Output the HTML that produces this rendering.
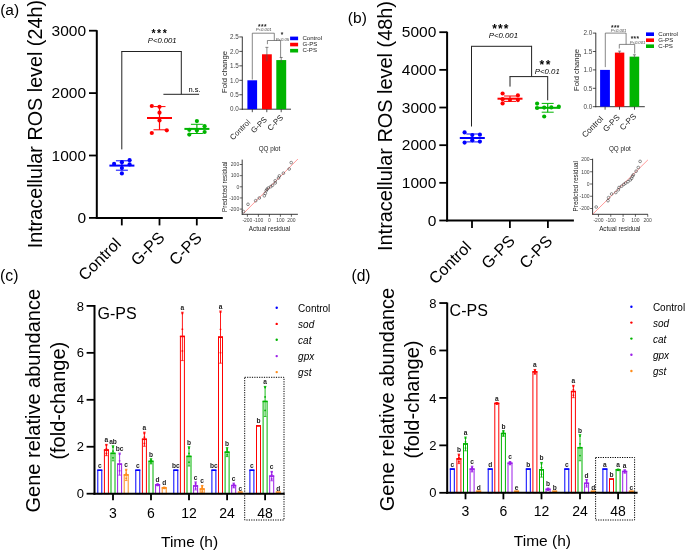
<!DOCTYPE html><html><head><meta charset="utf-8"><style>html,body{margin:0;padding:0;background:#fff;width:685px;height:552px;overflow:hidden}</style></head><body><svg width="685" height="552" viewBox="0 0 685 552" style="display:block;will-change:transform">
<rect width="685" height="552" fill="#fff"/>
<g font-family='"Liberation Sans", sans-serif' fill="#000">
<text x="0.15" y="15.20" font-size="15.5" text-anchor="start" >(a)</text>
<text x="0" y="0" font-size="20" text-anchor="middle" textLength="248.2" lengthAdjust="spacingAndGlyphs" transform="translate(41.8,124.1) rotate(-90)">Intracellular ROS level (24h)</text>
<line x1="96.80" y1="30.20" x2="96.80" y2="218.90" stroke="#000" stroke-width="2"/>
<line x1="95.80" y1="217.90" x2="222.80" y2="217.90" stroke="#000" stroke-width="2"/>
<line x1="89.00" y1="30.70" x2="96.80" y2="30.70" stroke="#000" stroke-width="1.8"/>
<text x="86.00" y="35.70" font-size="15.5" text-anchor="end" >3000</text>
<line x1="89.00" y1="93.10" x2="96.80" y2="93.10" stroke="#000" stroke-width="1.8"/>
<text x="86.00" y="98.10" font-size="15.5" text-anchor="end" >2000</text>
<line x1="89.00" y1="155.50" x2="96.80" y2="155.50" stroke="#000" stroke-width="1.8"/>
<text x="86.00" y="160.50" font-size="15.5" text-anchor="end" >1000</text>
<line x1="89.00" y1="217.90" x2="96.80" y2="217.90" stroke="#000" stroke-width="1.8"/>
<text x="86.00" y="222.90" font-size="15.5" text-anchor="end" >0</text>
<line x1="121.80" y1="217.90" x2="121.80" y2="225.40" stroke="#000" stroke-width="1.8"/>
<line x1="159.50" y1="217.90" x2="159.50" y2="225.40" stroke="#000" stroke-width="1.8"/>
<line x1="196.80" y1="217.90" x2="196.80" y2="225.40" stroke="#000" stroke-width="1.8"/>
<text x="0" y="0" font-size="16.2" text-anchor="end" transform="translate(122.00,244.70) rotate(-45)">Control</text>
<text x="0" y="0" font-size="16.2" text-anchor="end" transform="translate(165.60,238.50) rotate(-45)">G-PS</text>
<text x="0" y="0" font-size="16.2" text-anchor="end" transform="translate(203.00,238.90) rotate(-45)">C-PS</text>
<line x1="121.80" y1="149.40" x2="121.80" y2="51.50" stroke="#222" stroke-width="1"/>
<line x1="121.30" y1="51.50" x2="181.30" y2="51.50" stroke="#222" stroke-width="1"/>
<line x1="181.30" y1="51.00" x2="181.30" y2="94.30" stroke="#222" stroke-width="1"/>
<line x1="163.40" y1="94.30" x2="199.10" y2="94.30" stroke="#222" stroke-width="1"/>
<text x="151.40" y="36.90" font-size="10.5" text-anchor="start" font-weight="bold" letter-spacing="1.6">***</text>
<text x="162.20" y="42.80" font-size="7.7" text-anchor="middle" font-style="italic">P&lt;0.001</text>
<text x="194.50" y="92.00" font-size="7.5" text-anchor="middle" >n.s.</text>
<line x1="109.40" y1="165.60" x2="134.40" y2="165.60" stroke="#0000ff" stroke-width="2"/>
<line x1="121.90" y1="160.80" x2="121.90" y2="170.20" stroke="#0000ff" stroke-width="1.2"/>
<line x1="115.90" y1="160.80" x2="127.90" y2="160.80" stroke="#0000ff" stroke-width="1"/>
<line x1="115.90" y1="170.20" x2="127.90" y2="170.20" stroke="#0000ff" stroke-width="1"/>
<circle cx="129.60" cy="160.20" r="2.1" fill="#0000ff"/>
<circle cx="121.90" cy="162.20" r="2.1" fill="#0000ff"/>
<circle cx="114.10" cy="163.90" r="2.1" fill="#0000ff"/>
<circle cx="129.60" cy="164.40" r="2.1" fill="#0000ff"/>
<circle cx="121.90" cy="168.00" r="2.1" fill="#0000ff"/>
<circle cx="121.90" cy="173.40" r="2.1" fill="#0000ff"/>
<line x1="147.00" y1="118.00" x2="172.00" y2="118.00" stroke="#ff0000" stroke-width="2"/>
<line x1="159.50" y1="106.60" x2="159.50" y2="129.80" stroke="#ff0000" stroke-width="1.2"/>
<line x1="153.50" y1="106.60" x2="165.50" y2="106.60" stroke="#ff0000" stroke-width="1"/>
<line x1="153.50" y1="129.80" x2="165.50" y2="129.80" stroke="#ff0000" stroke-width="1"/>
<circle cx="151.80" cy="106.00" r="2.1" fill="#ff0000"/>
<circle cx="159.50" cy="106.80" r="2.1" fill="#ff0000"/>
<circle cx="159.50" cy="112.70" r="2.1" fill="#ff0000"/>
<circle cx="159.50" cy="120.40" r="2.1" fill="#ff0000"/>
<circle cx="166.80" cy="130.30" r="2.1" fill="#ff0000"/>
<circle cx="151.80" cy="133.00" r="2.1" fill="#ff0000"/>
<line x1="184.40" y1="128.90" x2="209.40" y2="128.90" stroke="#00b400" stroke-width="2"/>
<line x1="196.90" y1="124.30" x2="196.90" y2="133.50" stroke="#00b400" stroke-width="1.2"/>
<line x1="190.90" y1="124.30" x2="202.90" y2="124.30" stroke="#00b400" stroke-width="1"/>
<line x1="190.90" y1="133.50" x2="202.90" y2="133.50" stroke="#00b400" stroke-width="1"/>
<circle cx="196.90" cy="121.10" r="2.1" fill="#00b400"/>
<circle cx="204.60" cy="126.20" r="2.1" fill="#00b400"/>
<circle cx="189.30" cy="129.80" r="2.1" fill="#00b400"/>
<circle cx="196.90" cy="130.60" r="2.1" fill="#00b400"/>
<circle cx="204.60" cy="132.00" r="2.1" fill="#00b400"/>
<circle cx="189.30" cy="134.60" r="2.1" fill="#00b400"/>
<text x="347.85" y="23.30" font-size="15.5" text-anchor="start" >(b)</text>
<text x="0" y="0" font-size="20" text-anchor="middle" textLength="250" lengthAdjust="spacingAndGlyphs" transform="translate(391.7,126) rotate(-90)">Intracellular ROS level (48h)</text>
<line x1="447.10" y1="31.70" x2="447.10" y2="221.50" stroke="#000" stroke-width="2"/>
<line x1="446.10" y1="220.50" x2="573.90" y2="220.50" stroke="#000" stroke-width="2"/>
<line x1="439.30" y1="32.20" x2="447.10" y2="32.20" stroke="#000" stroke-width="1.8"/>
<text x="436.30" y="37.20" font-size="15.5" text-anchor="end" >5000</text>
<line x1="439.30" y1="69.86" x2="447.10" y2="69.86" stroke="#000" stroke-width="1.8"/>
<text x="436.30" y="74.86" font-size="15.5" text-anchor="end" >4000</text>
<line x1="439.30" y1="107.52" x2="447.10" y2="107.52" stroke="#000" stroke-width="1.8"/>
<text x="436.30" y="112.52" font-size="15.5" text-anchor="end" >3000</text>
<line x1="439.30" y1="145.18" x2="447.10" y2="145.18" stroke="#000" stroke-width="1.8"/>
<text x="436.30" y="150.18" font-size="15.5" text-anchor="end" >2000</text>
<line x1="439.30" y1="182.84" x2="447.10" y2="182.84" stroke="#000" stroke-width="1.8"/>
<text x="436.30" y="187.84" font-size="15.5" text-anchor="end" >1000</text>
<line x1="439.30" y1="220.50" x2="447.10" y2="220.50" stroke="#000" stroke-width="1.8"/>
<text x="436.30" y="225.50" font-size="15.5" text-anchor="end" >0</text>
<line x1="472.00" y1="220.50" x2="472.00" y2="228.00" stroke="#000" stroke-width="1.8"/>
<line x1="509.90" y1="220.50" x2="509.90" y2="228.00" stroke="#000" stroke-width="1.8"/>
<line x1="547.90" y1="220.50" x2="547.90" y2="228.00" stroke="#000" stroke-width="1.8"/>
<text x="0" y="0" font-size="16.2" text-anchor="end" transform="translate(472.30,248.00) rotate(-45)">Control</text>
<text x="0" y="0" font-size="16.2" text-anchor="end" transform="translate(515.90,241.80) rotate(-45)">G-PS</text>
<text x="0" y="0" font-size="16.2" text-anchor="end" transform="translate(553.30,242.20) rotate(-45)">C-PS</text>
<line x1="471.50" y1="126.50" x2="471.50" y2="46.30" stroke="#222" stroke-width="1"/>
<line x1="471.00" y1="46.30" x2="531.60" y2="46.30" stroke="#222" stroke-width="1"/>
<line x1="531.60" y1="45.80" x2="531.60" y2="76.60" stroke="#222" stroke-width="1"/>
<line x1="510.00" y1="86.60" x2="510.00" y2="76.60" stroke="#222" stroke-width="1"/>
<line x1="509.50" y1="76.60" x2="547.70" y2="76.60" stroke="#222" stroke-width="1"/>
<line x1="547.70" y1="76.10" x2="547.70" y2="100.30" stroke="#222" stroke-width="1"/>
<text x="492.30" y="32.80" font-size="12" text-anchor="start" font-weight="bold" letter-spacing="1.1">***</text>
<text x="503.40" y="37.60" font-size="7.8" text-anchor="middle" font-style="italic">P&lt;0.001</text>
<text x="539.60" y="68.80" font-size="12" text-anchor="start" font-weight="bold" letter-spacing="1.6">**</text>
<text x="547.30" y="74.40" font-size="7.8" text-anchor="middle" font-style="italic">P&lt;0.01</text>
<line x1="459.80" y1="138.00" x2="484.80" y2="138.00" stroke="#0000ff" stroke-width="2"/>
<line x1="472.30" y1="134.00" x2="472.30" y2="141.90" stroke="#0000ff" stroke-width="1.2"/>
<line x1="466.30" y1="134.00" x2="478.30" y2="134.00" stroke="#0000ff" stroke-width="1"/>
<line x1="466.30" y1="141.90" x2="478.30" y2="141.90" stroke="#0000ff" stroke-width="1"/>
<circle cx="464.60" cy="132.40" r="2.1" fill="#0000ff"/>
<circle cx="472.30" cy="135.00" r="2.1" fill="#0000ff"/>
<circle cx="479.90" cy="134.70" r="2.1" fill="#0000ff"/>
<circle cx="472.30" cy="140.30" r="2.1" fill="#0000ff"/>
<circle cx="464.60" cy="142.60" r="2.1" fill="#0000ff"/>
<circle cx="479.90" cy="141.60" r="2.1" fill="#0000ff"/>
<line x1="497.50" y1="98.70" x2="522.50" y2="98.70" stroke="#ff0000" stroke-width="2"/>
<line x1="510.00" y1="96.00" x2="510.00" y2="101.40" stroke="#ff0000" stroke-width="1.2"/>
<line x1="504.00" y1="96.00" x2="516.00" y2="96.00" stroke="#ff0000" stroke-width="1"/>
<line x1="504.00" y1="101.40" x2="516.00" y2="101.40" stroke="#ff0000" stroke-width="1"/>
<circle cx="502.60" cy="93.50" r="2.1" fill="#ff0000"/>
<circle cx="517.90" cy="95.40" r="2.1" fill="#ff0000"/>
<circle cx="502.60" cy="99.20" r="2.1" fill="#ff0000"/>
<circle cx="510.00" cy="99.80" r="2.1" fill="#ff0000"/>
<circle cx="517.90" cy="100.10" r="2.1" fill="#ff0000"/>
<circle cx="502.60" cy="103.40" r="2.1" fill="#ff0000"/>
<line x1="535.20" y1="107.80" x2="560.20" y2="107.80" stroke="#00b400" stroke-width="2"/>
<line x1="547.70" y1="103.40" x2="547.70" y2="112.20" stroke="#00b400" stroke-width="1.2"/>
<line x1="541.70" y1="103.40" x2="553.70" y2="103.40" stroke="#00b400" stroke-width="1"/>
<line x1="541.70" y1="112.20" x2="553.70" y2="112.20" stroke="#00b400" stroke-width="1"/>
<circle cx="537.10" cy="103.60" r="2.1" fill="#00b400"/>
<circle cx="537.10" cy="108.00" r="2.1" fill="#00b400"/>
<circle cx="551.30" cy="107.40" r="2.1" fill="#00b400"/>
<circle cx="558.80" cy="106.70" r="2.1" fill="#00b400"/>
<circle cx="544.20" cy="107.60" r="2.1" fill="#00b400"/>
<circle cx="544.20" cy="116.50" r="2.1" fill="#00b400"/>
<line x1="242.30" y1="36.65" x2="242.30" y2="109.70" stroke="#222" stroke-width="0.9"/>
<line x1="241.90" y1="109.20" x2="291.00" y2="109.20" stroke="#222" stroke-width="0.9"/>
<line x1="239.30" y1="109.20" x2="242.30" y2="109.20" stroke="#222" stroke-width="0.8"/>
<text x="238.70" y="111.40" font-size="6.3" text-anchor="end" fill="#444">0.0</text>
<line x1="239.30" y1="94.75" x2="242.30" y2="94.75" stroke="#222" stroke-width="0.8"/>
<text x="238.70" y="96.95" font-size="6.3" text-anchor="end" fill="#444">0.5</text>
<line x1="239.30" y1="80.30" x2="242.30" y2="80.30" stroke="#222" stroke-width="0.8"/>
<text x="238.70" y="82.50" font-size="6.3" text-anchor="end" fill="#444">1.0</text>
<line x1="239.30" y1="65.85" x2="242.30" y2="65.85" stroke="#222" stroke-width="0.8"/>
<text x="238.70" y="68.05" font-size="6.3" text-anchor="end" fill="#444">1.5</text>
<line x1="239.30" y1="51.40" x2="242.30" y2="51.40" stroke="#222" stroke-width="0.8"/>
<text x="238.70" y="53.60" font-size="6.3" text-anchor="end" fill="#444">2.0</text>
<line x1="239.30" y1="36.95" x2="242.30" y2="36.95" stroke="#222" stroke-width="0.8"/>
<text x="238.70" y="39.15" font-size="6.3" text-anchor="end" fill="#444">2.5</text>
<rect x="247.40" y="80.30" width="9.70" height="28.90" fill="#0000ff" stroke="none" stroke-width="0"/>
<rect x="262.00" y="54.29" width="9.80" height="54.91" fill="#ff0000" stroke="none" stroke-width="0"/>
<rect x="276.30" y="60.07" width="9.90" height="49.13" fill="#00b400" stroke="none" stroke-width="0"/>
<line x1="266.90" y1="47.35" x2="266.90" y2="61.23" stroke="#555" stroke-width="0.7"/>
<line x1="265.40" y1="47.35" x2="268.40" y2="47.35" stroke="#555" stroke-width="0.7"/>
<line x1="281.20" y1="57.47" x2="281.20" y2="62.96" stroke="#555" stroke-width="0.7"/>
<line x1="279.70" y1="57.47" x2="282.70" y2="57.47" stroke="#555" stroke-width="0.7"/>
<line x1="252.30" y1="109.20" x2="252.30" y2="112.20" stroke="#222" stroke-width="0.8"/>
<line x1="266.80" y1="109.20" x2="266.80" y2="112.20" stroke="#222" stroke-width="0.8"/>
<line x1="281.20" y1="109.20" x2="281.20" y2="112.20" stroke="#222" stroke-width="0.8"/>
<text x="0" y="0" font-size="7.8" text-anchor="end" fill="#222" transform="translate(250.90,122.70) rotate(-45)">Control</text>
<text x="0" y="0" font-size="7.8" text-anchor="end" fill="#222" transform="translate(267.50,120.10) rotate(-45)">G-PS</text>
<text x="0" y="0" font-size="7.8" text-anchor="end" fill="#222" transform="translate(283.70,118.00) rotate(-45)">C-PS</text>
<text x="0" y="0" font-size="7.6" text-anchor="middle" fill="#222" transform="translate(226.60,72.00) rotate(-90)">Fold change</text>
<rect x="290.10" y="36.60" width="8.00" height="3.60" fill="#0000ff" stroke="none" stroke-width="0"/>
<text x="302.40" y="40.10" font-size="6.1" text-anchor="start" fill="#222">Control</text>
<rect x="290.10" y="42.75" width="8.00" height="3.60" fill="#ff0000" stroke="none" stroke-width="0"/>
<text x="302.40" y="46.25" font-size="6.1" text-anchor="start" fill="#222">G-PS</text>
<rect x="290.10" y="48.90" width="8.00" height="3.60" fill="#00b400" stroke="none" stroke-width="0"/>
<text x="302.40" y="52.40" font-size="6.1" text-anchor="start" fill="#222">C-PS</text>
<line x1="252.30" y1="79.50" x2="252.30" y2="33.20" stroke="#555" stroke-width="0.7"/>
<line x1="252.30" y1="33.20" x2="274.30" y2="33.20" stroke="#555" stroke-width="0.7"/>
<line x1="274.30" y1="33.20" x2="274.30" y2="40.50" stroke="#555" stroke-width="0.7"/>
<line x1="267.40" y1="44.20" x2="267.40" y2="40.50" stroke="#555" stroke-width="0.7"/>
<line x1="267.40" y1="40.50" x2="280.60" y2="40.50" stroke="#555" stroke-width="0.7"/>
<line x1="280.60" y1="40.50" x2="280.60" y2="57.50" stroke="#555" stroke-width="0.7"/>
<text x="258.10" y="28.80" font-size="6.5" text-anchor="start" font-weight="bold" letter-spacing="0.4" fill="#222">***</text>
<text x="263.70" y="31.30" font-size="4.2" text-anchor="middle" font-style="italic" fill="#444">P&lt;0.001</text>
<text x="280.80" y="37.30" font-size="6.5" text-anchor="start" font-weight="bold" fill="#222">*</text>
<text x="282.40" y="40.50" font-size="4.2" text-anchor="middle" font-style="italic" fill="#444">P&lt;0.05</text>
<line x1="595.80" y1="32.80" x2="595.80" y2="107.20" stroke="#222" stroke-width="0.9"/>
<line x1="595.40" y1="106.70" x2="644.80" y2="106.70" stroke="#222" stroke-width="0.9"/>
<line x1="592.80" y1="106.70" x2="595.80" y2="106.70" stroke="#222" stroke-width="0.8"/>
<text x="592.20" y="108.90" font-size="6.3" text-anchor="end" fill="#444">0.0</text>
<line x1="592.80" y1="88.30" x2="595.80" y2="88.30" stroke="#222" stroke-width="0.8"/>
<text x="592.20" y="90.50" font-size="6.3" text-anchor="end" fill="#444">0.5</text>
<line x1="592.80" y1="69.90" x2="595.80" y2="69.90" stroke="#222" stroke-width="0.8"/>
<text x="592.20" y="72.10" font-size="6.3" text-anchor="end" fill="#444">1.0</text>
<line x1="592.80" y1="51.50" x2="595.80" y2="51.50" stroke="#222" stroke-width="0.8"/>
<text x="592.20" y="53.70" font-size="6.3" text-anchor="end" fill="#444">1.5</text>
<line x1="592.80" y1="33.10" x2="595.80" y2="33.10" stroke="#222" stroke-width="0.8"/>
<text x="592.20" y="35.30" font-size="6.3" text-anchor="end" fill="#444">2.0</text>
<rect x="600.10" y="69.90" width="9.80" height="36.80" fill="#0000ff" stroke="none" stroke-width="0"/>
<rect x="614.90" y="52.60" width="9.40" height="54.10" fill="#ff0000" stroke="none" stroke-width="0"/>
<rect x="629.60" y="56.65" width="9.60" height="50.05" fill="#00b400" stroke="none" stroke-width="0"/>
<line x1="619.60" y1="51.13" x2="619.60" y2="54.08" stroke="#555" stroke-width="0.7"/>
<line x1="618.10" y1="51.13" x2="621.10" y2="51.13" stroke="#555" stroke-width="0.7"/>
<line x1="634.40" y1="54.81" x2="634.40" y2="58.49" stroke="#555" stroke-width="0.7"/>
<line x1="632.90" y1="54.81" x2="635.90" y2="54.81" stroke="#555" stroke-width="0.7"/>
<line x1="605.10" y1="106.70" x2="605.10" y2="109.70" stroke="#222" stroke-width="0.8"/>
<line x1="619.50" y1="106.70" x2="619.50" y2="109.70" stroke="#222" stroke-width="0.8"/>
<line x1="634.50" y1="106.70" x2="634.50" y2="109.70" stroke="#222" stroke-width="0.8"/>
<text x="0" y="0" font-size="8.2" text-anchor="end" fill="#222" transform="translate(603.80,119.40) rotate(-45)">Control</text>
<text x="0" y="0" font-size="8.2" text-anchor="end" fill="#222" transform="translate(620.30,118.00) rotate(-45)">G-PS</text>
<text x="0" y="0" font-size="8.2" text-anchor="end" fill="#222" transform="translate(636.80,116.80) rotate(-45)">C-PS</text>
<text x="0" y="0" font-size="7.6" text-anchor="middle" fill="#222" transform="translate(578.60,70.00) rotate(-90)">Fold change</text>
<rect x="646.00" y="32.40" width="8.00" height="3.60" fill="#0000ff" stroke="none" stroke-width="0"/>
<text x="658.30" y="35.90" font-size="6.1" text-anchor="start" fill="#222">Control</text>
<rect x="646.00" y="38.40" width="8.00" height="3.60" fill="#ff0000" stroke="none" stroke-width="0"/>
<text x="658.30" y="41.90" font-size="6.1" text-anchor="start" fill="#222">G-PS</text>
<rect x="646.00" y="44.40" width="8.00" height="3.60" fill="#00b400" stroke="none" stroke-width="0"/>
<text x="658.30" y="47.90" font-size="6.1" text-anchor="start" fill="#222">C-PS</text>
<line x1="605.30" y1="67.10" x2="605.30" y2="33.10" stroke="#555" stroke-width="0.7"/>
<line x1="605.30" y1="33.10" x2="626.10" y2="33.10" stroke="#555" stroke-width="0.7"/>
<line x1="626.10" y1="33.10" x2="626.10" y2="44.40" stroke="#555" stroke-width="0.7"/>
<line x1="619.30" y1="48.50" x2="619.30" y2="44.40" stroke="#555" stroke-width="0.7"/>
<line x1="619.30" y1="44.40" x2="634.70" y2="44.40" stroke="#555" stroke-width="0.7"/>
<line x1="634.70" y1="44.40" x2="634.70" y2="53.50" stroke="#555" stroke-width="0.7"/>
<text x="611.00" y="29.60" font-size="6.5" text-anchor="start" font-weight="bold" letter-spacing="0.4" fill="#222">***</text>
<text x="618.60" y="32.20" font-size="4.2" text-anchor="middle" font-style="italic" fill="#444">P&lt;0.001</text>
<text x="630.70" y="41.40" font-size="6.5" text-anchor="start" font-weight="bold" letter-spacing="0.4" fill="#222">***</text>
<text x="637.50" y="44.00" font-size="4.2" text-anchor="middle" font-style="italic" fill="#444">P&lt;0.001</text>
<line x1="242.20" y1="159.60" x2="242.20" y2="214.70" stroke="#222" stroke-width="0.9"/>
<line x1="241.80" y1="214.30" x2="297.90" y2="214.30" stroke="#222" stroke-width="0.9"/>
<line x1="239.70" y1="164.50" x2="242.20" y2="164.50" stroke="#222" stroke-width="0.7"/>
<text x="239.20" y="166.30" font-size="5" text-anchor="end" fill="#444">200</text>
<line x1="239.70" y1="175.65" x2="242.20" y2="175.65" stroke="#222" stroke-width="0.7"/>
<text x="239.20" y="177.45" font-size="5" text-anchor="end" fill="#444">100</text>
<line x1="239.70" y1="186.80" x2="242.20" y2="186.80" stroke="#222" stroke-width="0.7"/>
<text x="239.20" y="188.60" font-size="5" text-anchor="end" fill="#444">0</text>
<line x1="239.70" y1="197.95" x2="242.20" y2="197.95" stroke="#222" stroke-width="0.7"/>
<text x="239.20" y="199.75" font-size="5" text-anchor="end" fill="#444">-100</text>
<line x1="239.70" y1="209.10" x2="242.20" y2="209.10" stroke="#222" stroke-width="0.7"/>
<text x="239.20" y="210.90" font-size="5" text-anchor="end" fill="#444">-200</text>
<line x1="247.40" y1="214.30" x2="247.40" y2="216.80" stroke="#222" stroke-width="0.7"/>
<text x="247.40" y="221.60" font-size="5" text-anchor="middle" fill="#444">-200</text>
<line x1="258.40" y1="214.30" x2="258.40" y2="216.80" stroke="#222" stroke-width="0.7"/>
<text x="258.40" y="221.60" font-size="5" text-anchor="middle" fill="#444">-100</text>
<line x1="269.40" y1="214.30" x2="269.40" y2="216.80" stroke="#222" stroke-width="0.7"/>
<text x="269.40" y="221.60" font-size="5" text-anchor="middle" fill="#444">0</text>
<line x1="280.40" y1="214.30" x2="280.40" y2="216.80" stroke="#222" stroke-width="0.7"/>
<text x="280.40" y="221.60" font-size="5" text-anchor="middle" fill="#444">100</text>
<line x1="291.40" y1="214.30" x2="291.40" y2="216.80" stroke="#222" stroke-width="0.7"/>
<text x="291.40" y="221.60" font-size="5" text-anchor="middle" fill="#444">200</text>
<line x1="243.50" y1="213.40" x2="297.90" y2="159.00" stroke="#f55" stroke-width="0.6"/>
<circle cx="243.50" cy="211.60" r="1.35" fill="none" stroke="#333" stroke-width="0.55"/>
<circle cx="248.00" cy="204.30" r="1.35" fill="none" stroke="#333" stroke-width="0.55"/>
<circle cx="255.70" cy="200.70" r="1.35" fill="none" stroke="#333" stroke-width="0.55"/>
<circle cx="259.30" cy="198.00" r="1.35" fill="none" stroke="#333" stroke-width="0.55"/>
<circle cx="264.30" cy="195.80" r="1.35" fill="none" stroke="#333" stroke-width="0.55"/>
<circle cx="265.30" cy="193.40" r="1.35" fill="none" stroke="#333" stroke-width="0.55"/>
<circle cx="266.20" cy="190.70" r="1.35" fill="none" stroke="#333" stroke-width="0.55"/>
<circle cx="267.00" cy="189.30" r="1.35" fill="none" stroke="#333" stroke-width="0.55"/>
<circle cx="268.30" cy="188.00" r="1.35" fill="none" stroke="#333" stroke-width="0.55"/>
<circle cx="270.70" cy="186.70" r="1.35" fill="none" stroke="#333" stroke-width="0.55"/>
<circle cx="272.50" cy="185.30" r="1.35" fill="none" stroke="#333" stroke-width="0.55"/>
<circle cx="275.20" cy="183.00" r="1.35" fill="none" stroke="#333" stroke-width="0.55"/>
<circle cx="275.20" cy="180.80" r="1.35" fill="none" stroke="#333" stroke-width="0.55"/>
<circle cx="278.50" cy="178.00" r="1.35" fill="none" stroke="#333" stroke-width="0.55"/>
<circle cx="279.40" cy="175.90" r="1.35" fill="none" stroke="#333" stroke-width="0.55"/>
<circle cx="283.40" cy="173.20" r="1.35" fill="none" stroke="#333" stroke-width="0.55"/>
<circle cx="289.20" cy="169.00" r="1.35" fill="none" stroke="#333" stroke-width="0.55"/>
<circle cx="291.20" cy="162.60" r="1.35" fill="none" stroke="#333" stroke-width="0.55"/>
<text x="269.50" y="151.30" font-size="6.3" text-anchor="middle" fill="#222">QQ plot</text>
<text x="269.50" y="231.00" font-size="6.3" text-anchor="middle" fill="#222">Actual residual</text>
<text x="0" y="0" font-size="6.3" text-anchor="middle" fill="#222" transform="translate(226.70,186.70) rotate(-90)">Predicted residual</text>
<line x1="592.60" y1="158.70" x2="592.60" y2="214.70" stroke="#222" stroke-width="0.9"/>
<line x1="592.20" y1="214.30" x2="647.90" y2="214.30" stroke="#222" stroke-width="0.9"/>
<line x1="590.10" y1="159.50" x2="592.60" y2="159.50" stroke="#222" stroke-width="0.7"/>
<text x="589.60" y="161.30" font-size="5" text-anchor="end" fill="#444">200</text>
<line x1="590.10" y1="171.75" x2="592.60" y2="171.75" stroke="#222" stroke-width="0.7"/>
<text x="589.60" y="173.55" font-size="5" text-anchor="end" fill="#444">100</text>
<line x1="590.10" y1="184.00" x2="592.60" y2="184.00" stroke="#222" stroke-width="0.7"/>
<text x="589.60" y="185.80" font-size="5" text-anchor="end" fill="#444">0</text>
<line x1="590.10" y1="196.25" x2="592.60" y2="196.25" stroke="#222" stroke-width="0.7"/>
<text x="589.60" y="198.05" font-size="5" text-anchor="end" fill="#444">-100</text>
<line x1="590.10" y1="208.50" x2="592.60" y2="208.50" stroke="#222" stroke-width="0.7"/>
<text x="589.60" y="210.30" font-size="5" text-anchor="end" fill="#444">-200</text>
<line x1="598.46" y1="214.30" x2="598.46" y2="216.80" stroke="#222" stroke-width="0.7"/>
<text x="598.46" y="221.60" font-size="5" text-anchor="middle" fill="#444">-200</text>
<line x1="610.78" y1="214.30" x2="610.78" y2="216.80" stroke="#222" stroke-width="0.7"/>
<text x="610.78" y="221.60" font-size="5" text-anchor="middle" fill="#444">-100</text>
<line x1="623.10" y1="214.30" x2="623.10" y2="216.80" stroke="#222" stroke-width="0.7"/>
<text x="623.10" y="221.60" font-size="5" text-anchor="middle" fill="#444">0</text>
<line x1="635.42" y1="214.30" x2="635.42" y2="216.80" stroke="#222" stroke-width="0.7"/>
<text x="635.42" y="221.60" font-size="5" text-anchor="middle" fill="#444">100</text>
<line x1="647.74" y1="214.30" x2="647.74" y2="216.80" stroke="#222" stroke-width="0.7"/>
<text x="647.74" y="221.60" font-size="5" text-anchor="middle" fill="#444">200</text>
<line x1="592.60" y1="214.30" x2="647.90" y2="159.90" stroke="#f55" stroke-width="0.6"/>
<circle cx="596.20" cy="207.00" r="1.35" fill="none" stroke="#333" stroke-width="0.55"/>
<circle cx="608.00" cy="200.70" r="1.35" fill="none" stroke="#333" stroke-width="0.55"/>
<circle cx="608.60" cy="197.60" r="1.35" fill="none" stroke="#333" stroke-width="0.55"/>
<circle cx="611.60" cy="194.00" r="1.35" fill="none" stroke="#333" stroke-width="0.55"/>
<circle cx="615.80" cy="192.50" r="1.35" fill="none" stroke="#333" stroke-width="0.55"/>
<circle cx="618.30" cy="189.80" r="1.35" fill="none" stroke="#333" stroke-width="0.55"/>
<circle cx="619.00" cy="187.50" r="1.35" fill="none" stroke="#333" stroke-width="0.55"/>
<circle cx="621.60" cy="186.20" r="1.35" fill="none" stroke="#333" stroke-width="0.55"/>
<circle cx="623.80" cy="184.40" r="1.35" fill="none" stroke="#333" stroke-width="0.55"/>
<circle cx="625.60" cy="183.10" r="1.35" fill="none" stroke="#333" stroke-width="0.55"/>
<circle cx="628.00" cy="181.70" r="1.35" fill="none" stroke="#333" stroke-width="0.55"/>
<circle cx="630.30" cy="179.90" r="1.35" fill="none" stroke="#333" stroke-width="0.55"/>
<circle cx="631.60" cy="178.40" r="1.35" fill="none" stroke="#333" stroke-width="0.55"/>
<circle cx="632.50" cy="176.20" r="1.35" fill="none" stroke="#333" stroke-width="0.55"/>
<circle cx="633.40" cy="174.80" r="1.35" fill="none" stroke="#333" stroke-width="0.55"/>
<circle cx="636.10" cy="171.20" r="1.35" fill="none" stroke="#333" stroke-width="0.55"/>
<circle cx="638.30" cy="167.50" r="1.35" fill="none" stroke="#333" stroke-width="0.55"/>
<circle cx="640.10" cy="161.40" r="1.35" fill="none" stroke="#333" stroke-width="0.55"/>
<text x="619.80" y="151.30" font-size="6.3" text-anchor="middle" fill="#222">QQ plot</text>
<text x="619.80" y="231.00" font-size="6.3" text-anchor="middle" fill="#222">Actual residual</text>
<text x="0" y="0" font-size="6.3" text-anchor="middle" fill="#222" transform="translate(577.60,186.20) rotate(-90)">Predicted residual</text>
<text x="0.10" y="281.10" font-size="15.8" text-anchor="start" >(c)</text>
<rect x="97.80" y="470.22" width="4.00" height="23.48" fill="#fff" stroke="#0000ff" stroke-width="1"/>
<line x1="97.30" y1="470.22" x2="102.30" y2="470.22" stroke="#0000ff" stroke-width="1.6"/>
<text x="99.80" y="468.22" font-size="6.6" text-anchor="middle" font-weight="bold" fill="#222">c</text>
<rect x="104.40" y="450.04" width="4.00" height="43.66" fill="#fff" stroke="#ff0000" stroke-width="1"/>
<line x1="103.90" y1="450.04" x2="108.90" y2="450.04" stroke="#ff0000" stroke-width="1.6"/>
<line x1="106.40" y1="444.40" x2="106.40" y2="455.67" stroke="#ff0000" stroke-width="0.9"/>
<line x1="105.10" y1="444.40" x2="107.70" y2="444.40" stroke="#ff0000" stroke-width="0.9"/>
<line x1="105.10" y1="455.67" x2="107.70" y2="455.67" stroke="#ff0000" stroke-width="0.8"/>
<circle cx="106.40" cy="445.60" r="1.0" fill="#ff0000"/>
<circle cx="106.40" cy="448.35" r="0.9" fill="#ff0000"/>
<circle cx="106.40" cy="453.42" r="0.9" fill="#ff0000"/>
<text x="106.40" y="442.40" font-size="6.6" text-anchor="middle" font-weight="bold" fill="#222">a</text>
<rect x="111.00" y="453.32" width="4.00" height="40.38" fill="#fff" stroke="#00b400" stroke-width="1"/>
<line x1="110.50" y1="453.32" x2="115.50" y2="453.32" stroke="#00b400" stroke-width="1.6"/>
<line x1="113.00" y1="445.81" x2="113.00" y2="460.83" stroke="#00b400" stroke-width="0.9"/>
<line x1="111.70" y1="445.81" x2="114.30" y2="445.81" stroke="#00b400" stroke-width="0.9"/>
<line x1="111.70" y1="460.83" x2="114.30" y2="460.83" stroke="#00b400" stroke-width="0.8"/>
<circle cx="113.00" cy="447.01" r="1.0" fill="#00b400"/>
<circle cx="113.00" cy="451.07" r="0.9" fill="#00b400"/>
<circle cx="113.00" cy="457.83" r="0.9" fill="#00b400"/>
<text x="113.00" y="443.81" font-size="6.6" text-anchor="middle" font-weight="bold" fill="#222">ab</text>
<rect x="117.60" y="464.12" width="4.00" height="29.58" fill="#fff" stroke="#9b1fe8" stroke-width="1"/>
<line x1="117.10" y1="464.12" x2="122.10" y2="464.12" stroke="#9b1fe8" stroke-width="1.6"/>
<line x1="119.60" y1="453.09" x2="119.60" y2="475.15" stroke="#9b1fe8" stroke-width="0.9"/>
<line x1="118.30" y1="453.09" x2="120.90" y2="453.09" stroke="#9b1fe8" stroke-width="0.9"/>
<line x1="118.30" y1="475.15" x2="120.90" y2="475.15" stroke="#9b1fe8" stroke-width="0.8"/>
<circle cx="119.60" cy="454.29" r="1.0" fill="#9b1fe8"/>
<circle cx="119.60" cy="460.81" r="0.9" fill="#9b1fe8"/>
<circle cx="119.60" cy="470.74" r="0.9" fill="#9b1fe8"/>
<text x="119.60" y="451.09" font-size="6.6" text-anchor="middle" font-weight="bold" fill="#222">bc</text>
<rect x="124.20" y="474.92" width="4.00" height="18.78" fill="#fff" stroke="#ff8c1a" stroke-width="1"/>
<line x1="123.70" y1="474.92" x2="128.70" y2="474.92" stroke="#ff8c1a" stroke-width="1.6"/>
<line x1="126.20" y1="469.29" x2="126.20" y2="480.55" stroke="#ff8c1a" stroke-width="0.9"/>
<line x1="124.90" y1="469.29" x2="127.50" y2="469.29" stroke="#ff8c1a" stroke-width="0.9"/>
<line x1="124.90" y1="480.55" x2="127.50" y2="480.55" stroke="#ff8c1a" stroke-width="0.8"/>
<circle cx="126.20" cy="470.49" r="1.0" fill="#ff8c1a"/>
<circle cx="126.20" cy="473.23" r="0.9" fill="#ff8c1a"/>
<circle cx="126.20" cy="478.30" r="0.9" fill="#ff8c1a"/>
<text x="126.20" y="467.29" font-size="6.6" text-anchor="middle" font-weight="bold" fill="#222">c</text>
<rect x="135.80" y="470.22" width="4.00" height="23.48" fill="#fff" stroke="#0000ff" stroke-width="1"/>
<line x1="135.30" y1="470.22" x2="140.30" y2="470.22" stroke="#0000ff" stroke-width="1.6"/>
<text x="137.80" y="468.22" font-size="6.6" text-anchor="middle" font-weight="bold" fill="#222">c</text>
<rect x="142.40" y="439.24" width="4.00" height="54.46" fill="#fff" stroke="#ff0000" stroke-width="1"/>
<line x1="141.90" y1="439.24" x2="146.90" y2="439.24" stroke="#ff0000" stroke-width="1.6"/>
<line x1="144.40" y1="432.20" x2="144.40" y2="446.28" stroke="#ff0000" stroke-width="0.9"/>
<line x1="143.10" y1="432.20" x2="145.70" y2="432.20" stroke="#ff0000" stroke-width="0.9"/>
<line x1="143.10" y1="446.28" x2="145.70" y2="446.28" stroke="#ff0000" stroke-width="0.8"/>
<circle cx="144.40" cy="433.40" r="1.0" fill="#ff0000"/>
<circle cx="144.40" cy="437.13" r="0.9" fill="#ff0000"/>
<circle cx="144.40" cy="443.46" r="0.9" fill="#ff0000"/>
<text x="144.40" y="430.20" font-size="6.6" text-anchor="middle" font-weight="bold" fill="#222">a</text>
<rect x="149.00" y="461.30" width="4.00" height="32.40" fill="#fff" stroke="#00b400" stroke-width="1"/>
<line x1="148.50" y1="461.30" x2="153.50" y2="461.30" stroke="#00b400" stroke-width="1.6"/>
<line x1="151.00" y1="458.72" x2="151.00" y2="463.89" stroke="#00b400" stroke-width="0.9"/>
<line x1="149.70" y1="458.72" x2="152.30" y2="458.72" stroke="#00b400" stroke-width="0.9"/>
<line x1="149.70" y1="463.89" x2="152.30" y2="463.89" stroke="#00b400" stroke-width="0.8"/>
<circle cx="151.00" cy="459.92" r="1.0" fill="#00b400"/>
<circle cx="151.00" cy="460.53" r="0.9" fill="#00b400"/>
<circle cx="151.00" cy="462.85" r="0.9" fill="#00b400"/>
<text x="151.00" y="456.72" font-size="6.6" text-anchor="middle" font-weight="bold" fill="#222">b</text>
<rect x="155.60" y="484.78" width="4.00" height="8.92" fill="#fff" stroke="#9b1fe8" stroke-width="1"/>
<line x1="155.10" y1="484.78" x2="160.10" y2="484.78" stroke="#9b1fe8" stroke-width="1.6"/>
<line x1="157.60" y1="483.84" x2="157.60" y2="485.72" stroke="#9b1fe8" stroke-width="0.9"/>
<line x1="156.30" y1="483.84" x2="158.90" y2="483.84" stroke="#9b1fe8" stroke-width="0.9"/>
<line x1="156.30" y1="485.72" x2="158.90" y2="485.72" stroke="#9b1fe8" stroke-width="0.8"/>
<circle cx="157.60" cy="485.04" r="1.0" fill="#9b1fe8"/>
<circle cx="157.60" cy="484.50" r="0.9" fill="#9b1fe8"/>
<circle cx="157.60" cy="485.34" r="0.9" fill="#9b1fe8"/>
<text x="157.60" y="481.84" font-size="6.6" text-anchor="middle" font-weight="bold" fill="#222">d</text>
<rect x="162.20" y="487.83" width="4.00" height="5.87" fill="#fff" stroke="#ff8c1a" stroke-width="1"/>
<line x1="161.70" y1="487.83" x2="166.70" y2="487.83" stroke="#ff8c1a" stroke-width="1.6"/>
<line x1="164.20" y1="487.13" x2="164.20" y2="488.54" stroke="#ff8c1a" stroke-width="0.9"/>
<line x1="162.90" y1="487.13" x2="165.50" y2="487.13" stroke="#ff8c1a" stroke-width="0.9"/>
<line x1="162.90" y1="488.54" x2="165.50" y2="488.54" stroke="#ff8c1a" stroke-width="0.8"/>
<circle cx="164.20" cy="488.33" r="1.0" fill="#ff8c1a"/>
<circle cx="164.20" cy="487.62" r="0.9" fill="#ff8c1a"/>
<circle cx="164.20" cy="488.25" r="0.9" fill="#ff8c1a"/>
<text x="164.20" y="485.13" font-size="6.6" text-anchor="middle" font-weight="bold" fill="#222">d</text>
<rect x="173.80" y="470.22" width="4.00" height="23.48" fill="#fff" stroke="#0000ff" stroke-width="1"/>
<line x1="173.30" y1="470.22" x2="178.30" y2="470.22" stroke="#0000ff" stroke-width="1.6"/>
<text x="175.80" y="468.22" font-size="6.6" text-anchor="middle" font-weight="bold" fill="#222">bc</text>
<rect x="180.40" y="336.42" width="4.00" height="157.28" fill="#fff" stroke="#ff0000" stroke-width="1"/>
<line x1="179.90" y1="336.42" x2="184.90" y2="336.42" stroke="#ff0000" stroke-width="1.6"/>
<line x1="182.40" y1="312.24" x2="182.40" y2="360.60" stroke="#ff0000" stroke-width="0.9"/>
<line x1="181.10" y1="312.24" x2="183.70" y2="312.24" stroke="#ff0000" stroke-width="0.9"/>
<line x1="181.10" y1="360.60" x2="183.70" y2="360.60" stroke="#ff0000" stroke-width="0.8"/>
<circle cx="182.40" cy="313.44" r="1.0" fill="#ff0000"/>
<circle cx="182.40" cy="329.16" r="0.9" fill="#ff0000"/>
<circle cx="182.40" cy="350.93" r="0.9" fill="#ff0000"/>
<text x="182.40" y="310.24" font-size="6.6" text-anchor="middle" font-weight="bold" fill="#222">a</text>
<rect x="187.00" y="456.37" width="4.00" height="37.33" fill="#fff" stroke="#00b400" stroke-width="1"/>
<line x1="186.50" y1="456.37" x2="191.50" y2="456.37" stroke="#00b400" stroke-width="1.6"/>
<line x1="189.00" y1="446.75" x2="189.00" y2="466.00" stroke="#00b400" stroke-width="0.9"/>
<line x1="187.70" y1="446.75" x2="190.30" y2="446.75" stroke="#00b400" stroke-width="0.9"/>
<line x1="187.70" y1="466.00" x2="190.30" y2="466.00" stroke="#00b400" stroke-width="0.8"/>
<circle cx="189.00" cy="447.95" r="1.0" fill="#00b400"/>
<circle cx="189.00" cy="453.49" r="0.9" fill="#00b400"/>
<circle cx="189.00" cy="462.15" r="0.9" fill="#00b400"/>
<text x="189.00" y="444.75" font-size="6.6" text-anchor="middle" font-weight="bold" fill="#222">b</text>
<rect x="193.60" y="485.95" width="4.00" height="7.75" fill="#fff" stroke="#9b1fe8" stroke-width="1"/>
<line x1="193.10" y1="485.95" x2="198.10" y2="485.95" stroke="#9b1fe8" stroke-width="1.6"/>
<line x1="195.60" y1="481.96" x2="195.60" y2="489.94" stroke="#9b1fe8" stroke-width="0.9"/>
<line x1="194.30" y1="481.96" x2="196.90" y2="481.96" stroke="#9b1fe8" stroke-width="0.9"/>
<line x1="194.30" y1="489.94" x2="196.90" y2="489.94" stroke="#9b1fe8" stroke-width="0.8"/>
<circle cx="195.60" cy="483.16" r="1.0" fill="#9b1fe8"/>
<circle cx="195.60" cy="484.76" r="0.9" fill="#9b1fe8"/>
<circle cx="195.60" cy="488.35" r="0.9" fill="#9b1fe8"/>
<text x="195.60" y="479.96" font-size="6.6" text-anchor="middle" font-weight="bold" fill="#222">c</text>
<rect x="200.20" y="489.00" width="4.00" height="4.69" fill="#fff" stroke="#ff8c1a" stroke-width="1"/>
<line x1="199.70" y1="489.00" x2="204.70" y2="489.00" stroke="#ff8c1a" stroke-width="1.6"/>
<line x1="202.20" y1="485.48" x2="202.20" y2="492.53" stroke="#ff8c1a" stroke-width="0.9"/>
<line x1="200.90" y1="485.48" x2="203.50" y2="485.48" stroke="#ff8c1a" stroke-width="0.9"/>
<line x1="200.90" y1="492.53" x2="203.50" y2="492.53" stroke="#ff8c1a" stroke-width="0.8"/>
<circle cx="202.20" cy="486.68" r="1.0" fill="#ff8c1a"/>
<circle cx="202.20" cy="487.95" r="0.9" fill="#ff8c1a"/>
<circle cx="202.20" cy="491.12" r="0.9" fill="#ff8c1a"/>
<text x="202.20" y="483.48" font-size="6.6" text-anchor="middle" font-weight="bold" fill="#222">c</text>
<rect x="211.90" y="470.22" width="4.00" height="23.48" fill="#fff" stroke="#0000ff" stroke-width="1"/>
<line x1="211.40" y1="470.22" x2="216.40" y2="470.22" stroke="#0000ff" stroke-width="1.6"/>
<text x="213.90" y="468.22" font-size="6.6" text-anchor="middle" font-weight="bold" fill="#222">bc</text>
<rect x="218.50" y="337.12" width="4.00" height="156.58" fill="#fff" stroke="#ff0000" stroke-width="1"/>
<line x1="218.00" y1="337.12" x2="223.00" y2="337.12" stroke="#ff0000" stroke-width="1.6"/>
<line x1="220.50" y1="311.06" x2="220.50" y2="363.18" stroke="#ff0000" stroke-width="0.9"/>
<line x1="219.20" y1="311.06" x2="221.80" y2="311.06" stroke="#ff0000" stroke-width="0.9"/>
<line x1="219.20" y1="363.18" x2="221.80" y2="363.18" stroke="#ff0000" stroke-width="0.8"/>
<circle cx="220.50" cy="312.26" r="1.0" fill="#ff0000"/>
<circle cx="220.50" cy="329.30" r="0.9" fill="#ff0000"/>
<circle cx="220.50" cy="352.76" r="0.9" fill="#ff0000"/>
<text x="220.50" y="309.06" font-size="6.6" text-anchor="middle" font-weight="bold" fill="#222">a</text>
<rect x="225.10" y="452.15" width="4.00" height="41.55" fill="#fff" stroke="#00b400" stroke-width="1"/>
<line x1="224.60" y1="452.15" x2="229.60" y2="452.15" stroke="#00b400" stroke-width="1.6"/>
<line x1="227.10" y1="447.69" x2="227.10" y2="456.61" stroke="#00b400" stroke-width="0.9"/>
<line x1="225.80" y1="447.69" x2="228.40" y2="447.69" stroke="#00b400" stroke-width="0.9"/>
<line x1="225.80" y1="456.61" x2="228.40" y2="456.61" stroke="#00b400" stroke-width="0.8"/>
<circle cx="227.10" cy="448.89" r="1.0" fill="#00b400"/>
<circle cx="227.10" cy="450.81" r="0.9" fill="#00b400"/>
<circle cx="227.10" cy="454.83" r="0.9" fill="#00b400"/>
<text x="227.10" y="445.69" font-size="6.6" text-anchor="middle" font-weight="bold" fill="#222">b</text>
<rect x="231.70" y="485.48" width="4.00" height="8.22" fill="#fff" stroke="#9b1fe8" stroke-width="1"/>
<line x1="231.20" y1="485.48" x2="236.20" y2="485.48" stroke="#9b1fe8" stroke-width="1.6"/>
<line x1="233.70" y1="483.14" x2="233.70" y2="487.83" stroke="#9b1fe8" stroke-width="0.9"/>
<line x1="232.40" y1="483.14" x2="235.00" y2="483.14" stroke="#9b1fe8" stroke-width="0.9"/>
<line x1="232.40" y1="487.83" x2="235.00" y2="487.83" stroke="#9b1fe8" stroke-width="0.8"/>
<circle cx="233.70" cy="484.34" r="1.0" fill="#9b1fe8"/>
<circle cx="233.70" cy="484.78" r="0.9" fill="#9b1fe8"/>
<circle cx="233.70" cy="486.89" r="0.9" fill="#9b1fe8"/>
<text x="233.70" y="481.14" font-size="6.6" text-anchor="middle" font-weight="bold" fill="#222">c</text>
<line x1="237.80" y1="492.10" x2="242.80" y2="492.10" stroke="#ff8c1a" stroke-width="1.6"/>
<text x="240.30" y="490.53" font-size="6.6" text-anchor="middle" font-weight="bold" fill="#222">c</text>
<rect x="249.90" y="470.22" width="4.00" height="23.48" fill="#fff" stroke="#0000ff" stroke-width="1"/>
<line x1="249.40" y1="470.22" x2="254.40" y2="470.22" stroke="#0000ff" stroke-width="1.6"/>
<text x="251.90" y="468.22" font-size="6.6" text-anchor="middle" font-weight="bold" fill="#222">c</text>
<rect x="256.50" y="425.86" width="4.00" height="67.84" fill="#fff" stroke="#ff0000" stroke-width="1"/>
<line x1="256.00" y1="425.86" x2="261.00" y2="425.86" stroke="#ff0000" stroke-width="1.6"/>
<text x="258.50" y="423.39" font-size="6.6" text-anchor="middle" font-weight="bold" fill="#222">b</text>
<rect x="263.10" y="401.44" width="4.00" height="92.26" fill="#fff" stroke="#00b400" stroke-width="1"/>
<line x1="262.60" y1="401.44" x2="267.60" y2="401.44" stroke="#00b400" stroke-width="1.6"/>
<line x1="265.10" y1="386.42" x2="265.10" y2="416.47" stroke="#00b400" stroke-width="0.9"/>
<line x1="263.80" y1="386.42" x2="266.40" y2="386.42" stroke="#00b400" stroke-width="0.9"/>
<line x1="263.80" y1="416.47" x2="266.40" y2="416.47" stroke="#00b400" stroke-width="0.8"/>
<circle cx="265.10" cy="387.62" r="1.0" fill="#00b400"/>
<circle cx="265.10" cy="396.94" r="0.9" fill="#00b400"/>
<circle cx="265.10" cy="410.46" r="0.9" fill="#00b400"/>
<text x="265.10" y="384.42" font-size="6.6" text-anchor="middle" font-weight="bold" fill="#222">a</text>
<rect x="269.70" y="476.09" width="4.00" height="17.61" fill="#fff" stroke="#9b1fe8" stroke-width="1"/>
<line x1="269.20" y1="476.09" x2="274.20" y2="476.09" stroke="#9b1fe8" stroke-width="1.6"/>
<line x1="271.70" y1="471.40" x2="271.70" y2="480.79" stroke="#9b1fe8" stroke-width="0.9"/>
<line x1="270.40" y1="471.40" x2="273.00" y2="471.40" stroke="#9b1fe8" stroke-width="0.9"/>
<line x1="270.40" y1="480.79" x2="273.00" y2="480.79" stroke="#9b1fe8" stroke-width="0.8"/>
<circle cx="271.70" cy="472.60" r="1.0" fill="#9b1fe8"/>
<circle cx="271.70" cy="474.69" r="0.9" fill="#9b1fe8"/>
<circle cx="271.70" cy="478.91" r="0.9" fill="#9b1fe8"/>
<text x="271.70" y="469.40" font-size="6.6" text-anchor="middle" font-weight="bold" fill="#222">c</text>
<line x1="275.80" y1="492.10" x2="280.80" y2="492.10" stroke="#ff8c1a" stroke-width="1.6"/>
<text x="278.30" y="490.53" font-size="6.6" text-anchor="middle" font-weight="bold" fill="#222">d</text>
<line x1="94.50" y1="305.00" x2="94.50" y2="494.70" stroke="#000" stroke-width="2"/>
<line x1="93.50" y1="493.70" x2="284.70" y2="493.70" stroke="#000" stroke-width="2"/>
<line x1="86.60" y1="305.90" x2="94.50" y2="305.90" stroke="#000" stroke-width="1.8"/>
<text x="83.90" y="310.50" font-size="13" text-anchor="end" >8</text>
<line x1="86.60" y1="352.85" x2="94.50" y2="352.85" stroke="#000" stroke-width="1.8"/>
<text x="83.90" y="357.45" font-size="13" text-anchor="end" >6</text>
<line x1="86.60" y1="399.80" x2="94.50" y2="399.80" stroke="#000" stroke-width="1.8"/>
<text x="83.90" y="404.40" font-size="13" text-anchor="end" >4</text>
<line x1="86.60" y1="446.75" x2="94.50" y2="446.75" stroke="#000" stroke-width="1.8"/>
<text x="83.90" y="451.35" font-size="13" text-anchor="end" >2</text>
<line x1="86.60" y1="493.70" x2="94.50" y2="493.70" stroke="#000" stroke-width="1.8"/>
<text x="83.90" y="498.30" font-size="13" text-anchor="end" >0</text>
<line x1="113.00" y1="493.70" x2="113.00" y2="500.20" stroke="#000" stroke-width="1.8"/>
<text x="113.00" y="518.00" font-size="14" text-anchor="middle" >3</text>
<line x1="151.00" y1="493.70" x2="151.00" y2="500.20" stroke="#000" stroke-width="1.8"/>
<text x="151.00" y="518.00" font-size="14" text-anchor="middle" >6</text>
<line x1="189.00" y1="493.70" x2="189.00" y2="500.20" stroke="#000" stroke-width="1.8"/>
<text x="189.00" y="518.00" font-size="14" text-anchor="middle" >12</text>
<line x1="227.10" y1="493.70" x2="227.10" y2="500.20" stroke="#000" stroke-width="1.8"/>
<text x="227.10" y="518.00" font-size="14" text-anchor="middle" >24</text>
<line x1="265.10" y1="493.70" x2="265.10" y2="500.20" stroke="#000" stroke-width="1.8"/>
<text x="265.10" y="518.00" font-size="14" text-anchor="middle" >48</text>
<text x="189.60" y="547.00" font-size="15.5" text-anchor="middle" >Time (h)</text>
<text x="97.60" y="318.60" font-size="16" text-anchor="start" >G-PS</text>
<circle cx="276.70" cy="307.80" r="1.2" fill="#0000ff"/>
<text x="298.10" y="312.10" font-size="10" text-anchor="start" >Control</text>
<circle cx="276.70" cy="323.90" r="1.2" fill="#ff0000"/>
<text x="298.10" y="328.20" font-size="10" text-anchor="start" font-style="italic">sod</text>
<circle cx="276.70" cy="339.80" r="1.2" fill="#00b400"/>
<text x="298.10" y="344.10" font-size="10" text-anchor="start" font-style="italic">cat</text>
<circle cx="276.70" cy="356.10" r="1.2" fill="#9b1fe8"/>
<text x="298.10" y="360.40" font-size="10" text-anchor="start" font-style="italic">gpx</text>
<circle cx="276.70" cy="372.10" r="1.2" fill="#ff8c1a"/>
<text x="298.10" y="376.40" font-size="10" text-anchor="start" font-style="italic">gst</text>
<rect x="244.7" y="377.3" width="39.30000000000001" height="142.7" fill="none" stroke="#000" stroke-width="1" stroke-dasharray="1.2,1.2"/>
<text x="0" y="0" font-size="20" text-anchor="middle" transform="translate(40.30,400.70) rotate(-90)">Gene relative abundance</text>
<text x="0" y="0" font-size="20" text-anchor="middle" transform="translate(65.30,400.70) rotate(-90)">(fold-change)</text>
<text x="351.45" y="280.50" font-size="15.6" text-anchor="start" >(d)</text>
<rect x="450.30" y="469.08" width="4.00" height="23.72" fill="#fff" stroke="#0000ff" stroke-width="1"/>
<line x1="449.80" y1="469.08" x2="454.80" y2="469.08" stroke="#0000ff" stroke-width="1.6"/>
<text x="452.30" y="467.08" font-size="6.6" text-anchor="middle" font-weight="bold" fill="#222">c</text>
<rect x="456.90" y="458.88" width="4.00" height="33.92" fill="#fff" stroke="#ff0000" stroke-width="1"/>
<line x1="456.40" y1="458.88" x2="461.40" y2="458.88" stroke="#ff0000" stroke-width="1.6"/>
<line x1="458.90" y1="454.14" x2="458.90" y2="463.62" stroke="#ff0000" stroke-width="0.9"/>
<line x1="457.60" y1="454.14" x2="460.20" y2="454.14" stroke="#ff0000" stroke-width="0.9"/>
<line x1="457.60" y1="463.62" x2="460.20" y2="463.62" stroke="#ff0000" stroke-width="0.8"/>
<circle cx="458.90" cy="455.34" r="1.0" fill="#ff0000"/>
<circle cx="458.90" cy="457.46" r="0.9" fill="#ff0000"/>
<circle cx="458.90" cy="461.73" r="0.9" fill="#ff0000"/>
<text x="458.90" y="452.14" font-size="6.6" text-anchor="middle" font-weight="bold" fill="#222">b</text>
<rect x="463.50" y="443.94" width="4.00" height="48.86" fill="#fff" stroke="#00b400" stroke-width="1"/>
<line x1="463.00" y1="443.94" x2="468.00" y2="443.94" stroke="#00b400" stroke-width="1.6"/>
<line x1="465.50" y1="437.06" x2="465.50" y2="450.82" stroke="#00b400" stroke-width="0.9"/>
<line x1="464.20" y1="437.06" x2="466.80" y2="437.06" stroke="#00b400" stroke-width="0.9"/>
<line x1="464.20" y1="450.82" x2="466.80" y2="450.82" stroke="#00b400" stroke-width="0.8"/>
<circle cx="465.50" cy="438.26" r="1.0" fill="#00b400"/>
<circle cx="465.50" cy="441.87" r="0.9" fill="#00b400"/>
<circle cx="465.50" cy="448.06" r="0.9" fill="#00b400"/>
<text x="465.50" y="435.06" font-size="6.6" text-anchor="middle" font-weight="bold" fill="#222">a</text>
<rect x="470.10" y="469.08" width="4.00" height="23.72" fill="#fff" stroke="#9b1fe8" stroke-width="1"/>
<line x1="469.60" y1="469.08" x2="474.60" y2="469.08" stroke="#9b1fe8" stroke-width="1.6"/>
<line x1="472.10" y1="466.23" x2="472.10" y2="471.93" stroke="#9b1fe8" stroke-width="0.9"/>
<line x1="470.80" y1="466.23" x2="473.40" y2="466.23" stroke="#9b1fe8" stroke-width="0.9"/>
<line x1="470.80" y1="471.93" x2="473.40" y2="471.93" stroke="#9b1fe8" stroke-width="0.8"/>
<circle cx="472.10" cy="467.43" r="1.0" fill="#9b1fe8"/>
<circle cx="472.10" cy="468.23" r="0.9" fill="#9b1fe8"/>
<circle cx="472.10" cy="470.79" r="0.9" fill="#9b1fe8"/>
<text x="472.10" y="464.23" font-size="6.6" text-anchor="middle" font-weight="bold" fill="#222">c</text>
<line x1="476.20" y1="491.20" x2="481.20" y2="491.20" stroke="#ff8c1a" stroke-width="1.6"/>
<text x="478.70" y="490.09" font-size="6.6" text-anchor="middle" font-weight="bold" fill="#222">d</text>
<rect x="488.20" y="469.08" width="4.00" height="23.72" fill="#fff" stroke="#0000ff" stroke-width="1"/>
<line x1="487.70" y1="469.08" x2="492.70" y2="469.08" stroke="#0000ff" stroke-width="1.6"/>
<text x="490.20" y="467.08" font-size="6.6" text-anchor="middle" font-weight="bold" fill="#222">d</text>
<rect x="494.80" y="403.38" width="4.00" height="89.42" fill="#fff" stroke="#ff0000" stroke-width="1"/>
<line x1="494.30" y1="403.38" x2="499.30" y2="403.38" stroke="#ff0000" stroke-width="1.6"/>
<line x1="496.80" y1="402.66" x2="496.80" y2="404.09" stroke="#ff0000" stroke-width="0.9"/>
<line x1="495.50" y1="402.66" x2="498.10" y2="402.66" stroke="#ff0000" stroke-width="0.9"/>
<line x1="495.50" y1="404.09" x2="498.10" y2="404.09" stroke="#ff0000" stroke-width="0.8"/>
<circle cx="496.80" cy="403.86" r="1.0" fill="#ff0000"/>
<circle cx="496.80" cy="403.16" r="0.9" fill="#ff0000"/>
<circle cx="496.80" cy="403.80" r="0.9" fill="#ff0000"/>
<text x="496.80" y="400.66" font-size="6.6" text-anchor="middle" font-weight="bold" fill="#222">a</text>
<rect x="501.40" y="433.50" width="4.00" height="59.30" fill="#fff" stroke="#00b400" stroke-width="1"/>
<line x1="500.90" y1="433.50" x2="505.90" y2="433.50" stroke="#00b400" stroke-width="1.6"/>
<line x1="503.40" y1="430.65" x2="503.40" y2="436.35" stroke="#00b400" stroke-width="0.9"/>
<line x1="502.10" y1="430.65" x2="504.70" y2="430.65" stroke="#00b400" stroke-width="0.9"/>
<line x1="502.10" y1="436.35" x2="504.70" y2="436.35" stroke="#00b400" stroke-width="0.8"/>
<circle cx="503.40" cy="431.85" r="1.0" fill="#00b400"/>
<circle cx="503.40" cy="432.65" r="0.9" fill="#00b400"/>
<circle cx="503.40" cy="435.21" r="0.9" fill="#00b400"/>
<text x="503.40" y="428.65" font-size="6.6" text-anchor="middle" font-weight="bold" fill="#222">b</text>
<rect x="508.00" y="463.15" width="4.00" height="29.65" fill="#fff" stroke="#9b1fe8" stroke-width="1"/>
<line x1="507.50" y1="463.15" x2="512.50" y2="463.15" stroke="#9b1fe8" stroke-width="1.6"/>
<line x1="510.00" y1="461.49" x2="510.00" y2="464.81" stroke="#9b1fe8" stroke-width="0.9"/>
<line x1="508.70" y1="461.49" x2="511.30" y2="461.49" stroke="#9b1fe8" stroke-width="0.9"/>
<line x1="508.70" y1="464.81" x2="511.30" y2="464.81" stroke="#9b1fe8" stroke-width="0.8"/>
<circle cx="510.00" cy="462.69" r="1.0" fill="#9b1fe8"/>
<circle cx="510.00" cy="462.65" r="0.9" fill="#9b1fe8"/>
<circle cx="510.00" cy="464.15" r="0.9" fill="#9b1fe8"/>
<text x="510.00" y="459.49" font-size="6.6" text-anchor="middle" font-weight="bold" fill="#222">c</text>
<line x1="514.10" y1="491.20" x2="519.10" y2="491.20" stroke="#ff8c1a" stroke-width="1.6"/>
<text x="516.60" y="490.33" font-size="6.6" text-anchor="middle" font-weight="bold" fill="#222">e</text>
<rect x="526.30" y="469.08" width="4.00" height="23.72" fill="#fff" stroke="#0000ff" stroke-width="1"/>
<line x1="525.80" y1="469.08" x2="530.80" y2="469.08" stroke="#0000ff" stroke-width="1.6"/>
<text x="528.30" y="467.08" font-size="6.6" text-anchor="middle" font-weight="bold" fill="#222">b</text>
<rect x="532.90" y="371.83" width="4.00" height="120.97" fill="#fff" stroke="#ff0000" stroke-width="1"/>
<line x1="532.40" y1="371.83" x2="537.40" y2="371.83" stroke="#ff0000" stroke-width="1.6"/>
<line x1="534.90" y1="369.46" x2="534.90" y2="374.20" stroke="#ff0000" stroke-width="0.9"/>
<line x1="533.60" y1="369.46" x2="536.20" y2="369.46" stroke="#ff0000" stroke-width="0.9"/>
<line x1="533.60" y1="374.20" x2="536.20" y2="374.20" stroke="#ff0000" stroke-width="0.8"/>
<circle cx="534.90" cy="370.66" r="1.0" fill="#ff0000"/>
<circle cx="534.90" cy="371.12" r="0.9" fill="#ff0000"/>
<circle cx="534.90" cy="373.25" r="0.9" fill="#ff0000"/>
<text x="534.90" y="367.46" font-size="6.6" text-anchor="middle" font-weight="bold" fill="#222">a</text>
<rect x="539.50" y="469.79" width="4.00" height="23.01" fill="#fff" stroke="#00b400" stroke-width="1"/>
<line x1="539.00" y1="469.79" x2="544.00" y2="469.79" stroke="#00b400" stroke-width="1.6"/>
<line x1="541.50" y1="462.44" x2="541.50" y2="477.14" stroke="#00b400" stroke-width="0.9"/>
<line x1="540.20" y1="462.44" x2="542.80" y2="462.44" stroke="#00b400" stroke-width="0.9"/>
<line x1="540.20" y1="477.14" x2="542.80" y2="477.14" stroke="#00b400" stroke-width="0.8"/>
<circle cx="541.50" cy="463.64" r="1.0" fill="#00b400"/>
<circle cx="541.50" cy="467.59" r="0.9" fill="#00b400"/>
<circle cx="541.50" cy="474.20" r="0.9" fill="#00b400"/>
<text x="541.50" y="460.44" font-size="6.6" text-anchor="middle" font-weight="bold" fill="#222">b</text>
<rect x="546.10" y="489.24" width="4.00" height="3.56" fill="#fff" stroke="#9b1fe8" stroke-width="1"/>
<line x1="545.60" y1="489.24" x2="550.60" y2="489.24" stroke="#9b1fe8" stroke-width="1.6"/>
<line x1="548.10" y1="488.06" x2="548.10" y2="490.43" stroke="#9b1fe8" stroke-width="0.9"/>
<line x1="546.80" y1="488.06" x2="549.40" y2="488.06" stroke="#9b1fe8" stroke-width="0.9"/>
<line x1="546.80" y1="490.43" x2="549.40" y2="490.43" stroke="#9b1fe8" stroke-width="0.8"/>
<circle cx="548.10" cy="489.26" r="1.0" fill="#9b1fe8"/>
<circle cx="548.10" cy="488.89" r="0.9" fill="#9b1fe8"/>
<circle cx="548.10" cy="489.95" r="0.9" fill="#9b1fe8"/>
<text x="548.10" y="486.06" font-size="6.6" text-anchor="middle" font-weight="bold" fill="#222">b</text>
<line x1="552.20" y1="491.20" x2="557.20" y2="491.20" stroke="#ff8c1a" stroke-width="1.6"/>
<text x="554.70" y="490.09" font-size="6.6" text-anchor="middle" font-weight="bold" fill="#222">b</text>
<rect x="564.80" y="469.08" width="4.00" height="23.72" fill="#fff" stroke="#0000ff" stroke-width="1"/>
<line x1="564.30" y1="469.08" x2="569.30" y2="469.08" stroke="#0000ff" stroke-width="1.6"/>
<text x="566.80" y="467.08" font-size="6.6" text-anchor="middle" font-weight="bold" fill="#222">c</text>
<rect x="571.40" y="391.52" width="4.00" height="101.28" fill="#fff" stroke="#ff0000" stroke-width="1"/>
<line x1="570.90" y1="391.52" x2="575.90" y2="391.52" stroke="#ff0000" stroke-width="1.6"/>
<line x1="573.40" y1="385.35" x2="573.40" y2="397.68" stroke="#ff0000" stroke-width="0.9"/>
<line x1="572.10" y1="385.35" x2="574.70" y2="385.35" stroke="#ff0000" stroke-width="0.9"/>
<line x1="572.10" y1="397.68" x2="574.70" y2="397.68" stroke="#ff0000" stroke-width="0.8"/>
<circle cx="573.40" cy="386.55" r="1.0" fill="#ff0000"/>
<circle cx="573.40" cy="389.67" r="0.9" fill="#ff0000"/>
<circle cx="573.40" cy="395.22" r="0.9" fill="#ff0000"/>
<text x="573.40" y="383.35" font-size="6.6" text-anchor="middle" font-weight="bold" fill="#222">a</text>
<rect x="578.00" y="447.73" width="4.00" height="45.07" fill="#fff" stroke="#00b400" stroke-width="1"/>
<line x1="577.50" y1="447.73" x2="582.50" y2="447.73" stroke="#00b400" stroke-width="1.6"/>
<line x1="580.00" y1="434.69" x2="580.00" y2="460.78" stroke="#00b400" stroke-width="0.9"/>
<line x1="578.70" y1="434.69" x2="581.30" y2="434.69" stroke="#00b400" stroke-width="0.9"/>
<line x1="578.70" y1="460.78" x2="581.30" y2="460.78" stroke="#00b400" stroke-width="0.8"/>
<circle cx="580.00" cy="435.89" r="1.0" fill="#00b400"/>
<circle cx="580.00" cy="443.82" r="0.9" fill="#00b400"/>
<circle cx="580.00" cy="455.56" r="0.9" fill="#00b400"/>
<text x="580.00" y="432.69" font-size="6.6" text-anchor="middle" font-weight="bold" fill="#222">b</text>
<rect x="584.60" y="483.31" width="4.00" height="9.49" fill="#fff" stroke="#9b1fe8" stroke-width="1"/>
<line x1="584.10" y1="483.31" x2="589.10" y2="483.31" stroke="#9b1fe8" stroke-width="1.6"/>
<line x1="586.60" y1="479.52" x2="586.60" y2="487.11" stroke="#9b1fe8" stroke-width="0.9"/>
<line x1="585.30" y1="479.52" x2="587.90" y2="479.52" stroke="#9b1fe8" stroke-width="0.9"/>
<line x1="585.30" y1="487.11" x2="587.90" y2="487.11" stroke="#9b1fe8" stroke-width="0.8"/>
<circle cx="586.60" cy="480.72" r="1.0" fill="#9b1fe8"/>
<circle cx="586.60" cy="482.17" r="0.9" fill="#9b1fe8"/>
<circle cx="586.60" cy="485.59" r="0.9" fill="#9b1fe8"/>
<text x="586.60" y="477.52" font-size="6.6" text-anchor="middle" font-weight="bold" fill="#222">d</text>
<line x1="590.70" y1="491.20" x2="595.70" y2="491.20" stroke="#ff8c1a" stroke-width="1.6"/>
<text x="593.20" y="490.33" font-size="6.6" text-anchor="middle" font-weight="bold" fill="#222">d</text>
<rect x="602.90" y="469.08" width="4.00" height="23.72" fill="#fff" stroke="#0000ff" stroke-width="1"/>
<line x1="602.40" y1="469.08" x2="607.40" y2="469.08" stroke="#0000ff" stroke-width="1.6"/>
<text x="604.90" y="467.08" font-size="6.6" text-anchor="middle" font-weight="bold" fill="#222">a</text>
<rect x="609.50" y="479.04" width="4.00" height="13.76" fill="#fff" stroke="#ff0000" stroke-width="1"/>
<line x1="609.00" y1="479.04" x2="614.00" y2="479.04" stroke="#ff0000" stroke-width="1.6"/>
<text x="611.50" y="476.57" font-size="6.6" text-anchor="middle" font-weight="bold" fill="#222">b</text>
<rect x="616.10" y="469.79" width="4.00" height="23.01" fill="#fff" stroke="#00b400" stroke-width="1"/>
<line x1="615.60" y1="469.79" x2="620.60" y2="469.79" stroke="#00b400" stroke-width="1.6"/>
<line x1="618.10" y1="469.08" x2="618.10" y2="470.50" stroke="#00b400" stroke-width="0.9"/>
<line x1="616.80" y1="469.08" x2="619.40" y2="469.08" stroke="#00b400" stroke-width="0.9"/>
<line x1="616.80" y1="470.50" x2="619.40" y2="470.50" stroke="#00b400" stroke-width="0.8"/>
<circle cx="618.10" cy="470.28" r="1.0" fill="#00b400"/>
<circle cx="618.10" cy="469.58" r="0.9" fill="#00b400"/>
<circle cx="618.10" cy="470.22" r="0.9" fill="#00b400"/>
<text x="618.10" y="467.08" font-size="6.6" text-anchor="middle" font-weight="bold" fill="#222">a</text>
<rect x="622.70" y="471.45" width="4.00" height="21.35" fill="#fff" stroke="#9b1fe8" stroke-width="1"/>
<line x1="622.20" y1="471.45" x2="627.20" y2="471.45" stroke="#9b1fe8" stroke-width="1.6"/>
<line x1="624.70" y1="469.79" x2="624.70" y2="473.11" stroke="#9b1fe8" stroke-width="0.9"/>
<line x1="623.40" y1="469.79" x2="626.00" y2="469.79" stroke="#9b1fe8" stroke-width="0.9"/>
<line x1="623.40" y1="473.11" x2="626.00" y2="473.11" stroke="#9b1fe8" stroke-width="0.8"/>
<circle cx="624.70" cy="470.99" r="1.0" fill="#9b1fe8"/>
<circle cx="624.70" cy="470.95" r="0.9" fill="#9b1fe8"/>
<circle cx="624.70" cy="472.45" r="0.9" fill="#9b1fe8"/>
<text x="624.70" y="467.79" font-size="6.6" text-anchor="middle" font-weight="bold" fill="#222">a</text>
<line x1="628.80" y1="491.20" x2="633.80" y2="491.20" stroke="#ff8c1a" stroke-width="1.6"/>
<text x="631.30" y="490.09" font-size="6.6" text-anchor="middle" font-weight="bold" fill="#222">c</text>
<line x1="447.20" y1="302.50" x2="447.20" y2="493.80" stroke="#000" stroke-width="2"/>
<line x1="446.20" y1="492.80" x2="637.60" y2="492.80" stroke="#000" stroke-width="2"/>
<line x1="439.30" y1="303.04" x2="447.20" y2="303.04" stroke="#000" stroke-width="1.8"/>
<text x="436.60" y="307.64" font-size="13" text-anchor="end" >8</text>
<line x1="439.30" y1="350.48" x2="447.20" y2="350.48" stroke="#000" stroke-width="1.8"/>
<text x="436.60" y="355.08" font-size="13" text-anchor="end" >6</text>
<line x1="439.30" y1="397.92" x2="447.20" y2="397.92" stroke="#000" stroke-width="1.8"/>
<text x="436.60" y="402.52" font-size="13" text-anchor="end" >4</text>
<line x1="439.30" y1="445.36" x2="447.20" y2="445.36" stroke="#000" stroke-width="1.8"/>
<text x="436.60" y="449.96" font-size="13" text-anchor="end" >2</text>
<line x1="439.30" y1="492.80" x2="447.20" y2="492.80" stroke="#000" stroke-width="1.8"/>
<text x="436.60" y="497.40" font-size="13" text-anchor="end" >0</text>
<line x1="465.50" y1="492.80" x2="465.50" y2="499.30" stroke="#000" stroke-width="1.8"/>
<text x="465.50" y="516.20" font-size="14" text-anchor="middle" >3</text>
<line x1="503.40" y1="492.80" x2="503.40" y2="499.30" stroke="#000" stroke-width="1.8"/>
<text x="503.40" y="516.20" font-size="14" text-anchor="middle" >6</text>
<line x1="541.50" y1="492.80" x2="541.50" y2="499.30" stroke="#000" stroke-width="1.8"/>
<text x="541.50" y="516.20" font-size="14" text-anchor="middle" >12</text>
<line x1="580.00" y1="492.80" x2="580.00" y2="499.30" stroke="#000" stroke-width="1.8"/>
<text x="580.00" y="516.20" font-size="14" text-anchor="middle" >24</text>
<line x1="618.10" y1="492.80" x2="618.10" y2="499.30" stroke="#000" stroke-width="1.8"/>
<text x="618.10" y="516.20" font-size="14" text-anchor="middle" >48</text>
<text x="542.40" y="545.50" font-size="15.5" text-anchor="middle" >Time (h)</text>
<text x="449.60" y="316.40" font-size="16" text-anchor="start" >C-PS</text>
<circle cx="631.40" cy="306.70" r="1.2" fill="#0000ff"/>
<text x="652.90" y="311.00" font-size="10" text-anchor="start" >Control</text>
<circle cx="631.40" cy="322.60" r="1.2" fill="#ff0000"/>
<text x="652.90" y="326.90" font-size="10" text-anchor="start" font-style="italic">sod</text>
<circle cx="631.40" cy="338.60" r="1.2" fill="#00b400"/>
<text x="652.90" y="342.90" font-size="10" text-anchor="start" font-style="italic">cat</text>
<circle cx="631.40" cy="354.70" r="1.2" fill="#9b1fe8"/>
<text x="652.90" y="359.00" font-size="10" text-anchor="start" font-style="italic">gpx</text>
<circle cx="631.40" cy="371.00" r="1.2" fill="#ff8c1a"/>
<text x="652.90" y="375.30" font-size="10" text-anchor="start" font-style="italic">gst</text>
<rect x="595.6" y="457.5" width="39.0" height="62.5" fill="none" stroke="#000" stroke-width="1" stroke-dasharray="1.2,1.2"/>
<text x="0" y="0" font-size="20" text-anchor="middle" transform="translate(393.50,399.50) rotate(-90)">Gene relative abundance</text>
<text x="0" y="0" font-size="20" text-anchor="middle" transform="translate(418.50,399.50) rotate(-90)">(fold-change)</text>
</g></svg></body></html>
